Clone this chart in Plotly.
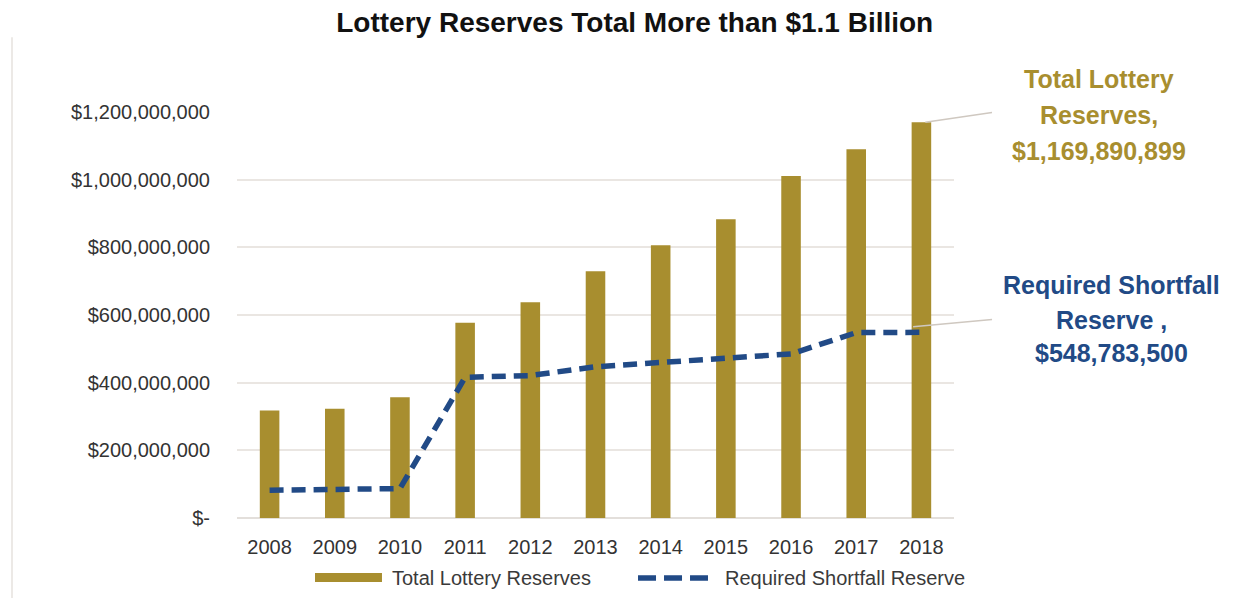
import plotly.graph_objects as go

years = ["2008", "2009", "2010", "2011", "2012", "2013", "2014", "2015", "2016", "2017", "2018"]
total_reserves = [318e6, 323e6, 357e6, 577e6, 638e6, 729e6, 806e6, 883e6, 1011e6, 1090e6, 1169890899]
required_reserve = [82e6, 85e6, 87e6, 416e6, 421e6, 447e6, 460e6, 471e6, 485e6, 548e6, 548783500]
y_tickvals = [0, 200e6, 400e6, 600e6, 800e6, 1000e6, 1200e6]
y_ticktext = ["$-", "$200,000,000", "$400,000,000", "$600,000,000", "$800,000,000",
              "$1,000,000,000", "$1,200,000,000"]
total_label_lines = ["Total Lottery", "Reserves,", "$1,169,890,899"]
required_label_lines = ["Required Shortfall", "Reserve ,", "$548,783,500"]

GOLD = "#A88E2F"
NAVY = "#214A86"
FONT = "Liberation Sans, Arial, sans-serif"

fig = go.Figure()
fig.add_trace(go.Bar(x=years, y=total_reserves, name="Total Lottery Reserves",
                     marker=dict(color=GOLD, line=dict(width=0)), showlegend=False))
fig.add_trace(go.Scatter(x=years, y=required_reserve, name="Required Shortfall Reserve",
                         mode="lines", line=dict(color=NAVY, width=5.5, dash="14px,8px"),
                         showlegend=False))

shapes = [
    # leader lines
    dict(type="line", xref="paper", yref="paper", x0=0.96, y0=0.975, x1=1.053, y1=0.9985,
         line=dict(color="#CFC8C0", width=1.5)),
    dict(type="line", xref="paper", yref="paper", x0=0.943, y0=0.471, x1=1.053, y1=0.489,
         line=dict(color="#CFC8C0", width=1.5)),
    # legend swatches
    dict(type="rect", xref="paper", yref="paper", x0=0.1088, x1=0.2022, y0=-0.1575, y1=-0.1354,
         fillcolor=GOLD, line=dict(width=0)),
    dict(type="line", xref="paper", yref="paper", x0=0.5593, x1=0.6569, y0=-0.1477, y1=-0.1477,
         line=dict(color=NAVY, width=5.5, dash="18px,8px")),
    # left frame line
    dict(type="line", xref="paper", yref="paper", x0=-0.3138, x1=-0.3138, y0=1.184, y1=-0.21,
         line=dict(color="#E6E2DE", width=1.5)),
]

annotations = []
for txt, yy in zip(total_label_lines, [1.0805, 0.992, 0.9035]):
    annotations.append(dict(text=txt, xref="paper", yref="paper", x=1.202, y=yy,
                            xanchor="center", yanchor="middle", showarrow=False,
                            font=dict(family=FONT, size=25, color=GOLD, weight="bold")))
for txt, yy in zip(required_label_lines, [0.5735, 0.487, 0.406]):
    annotations.append(dict(text=txt, xref="paper", yref="paper", x=1.220, y=yy,
                            xanchor="center", yanchor="middle", showarrow=False,
                            font=dict(family=FONT, size=25, color=NAVY, weight="bold")))
annotations += [
    dict(text="Total Lottery Reserves", xref="paper", yref="paper", x=0.2134, y=-0.1477,
         xanchor="left", yanchor="middle", showarrow=False,
         font=dict(family=FONT, size=20, color="#3A3A3A")),
    dict(text="Required Shortfall Reserve", xref="paper", yref="paper", x=0.6778, y=-0.1477,
         xanchor="left", yanchor="middle", showarrow=False,
         font=dict(family=FONT, size=20, color="#3A3A3A")),
]

fig.update_layout(
    width=1246, height=590,
    margin=dict(l=229, r=300, t=104, b=80),
    paper_bgcolor="white", plot_bgcolor="white",
    title=dict(text="<b>Lottery Reserves Total More than $1.1 Billion</b>",
               xref="container", yref="container", x=0.503, y=0.976,
               xanchor="center", yanchor="middle",
               font=dict(family=FONT, size=28, color="#111111")),
    bargap=0.7,
    xaxis=dict(type="category", showgrid=False, showline=False, zeroline=False,
               ticks="", tickfont=dict(family=FONT, size=20, color="#333333"),
               ticklabelstandoff=15),
    yaxis=dict(range=[0, 1.2e9], tickvals=y_tickvals, ticktext=y_ticktext,
               showgrid=True, gridcolor="#EAE6E2", gridwidth=1.5,
               zeroline=True, zerolinecolor="#E3DFDB", zerolinewidth=1.5,
               showline=False, ticks="",
               tickfont=dict(family=FONT, size=20, color="#333333"),
               ticklabelstandoff=26),
    shapes=shapes,
    annotations=annotations,
)

fig.write_html("out.html")
